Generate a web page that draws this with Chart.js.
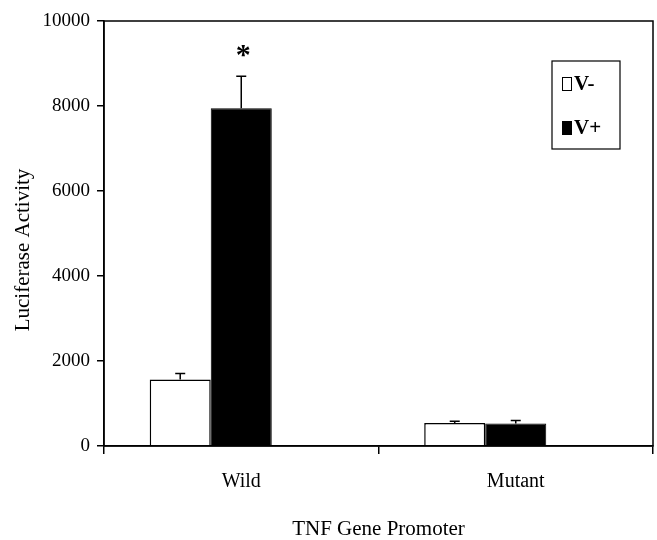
<!DOCTYPE html>
<html lang="en">
<head>
    <meta charset="UTF-8">
    <title>TNF Gene Promoter</title>
    <script src="https://cdn.jsdelivr.net/npm/chart.js"></script>
    <style>
        body { margin: 0; background: #fff; }
        canvas { display: block; }
    </style>
</head>
<body>
    <canvas id="barChart" width="657" height="540"></canvas>
    <script>
    // values
    var categories = ['Wild', 'Mutant'];
    var seriesLabels = ['V-', 'V+'];
    var vMinus = [1565, 540];
    var vPlus = [7950, 530];
    var vMinusErr = [140, 40];
    var vPlusErr = [750, 70];
    var vPlusMarks = ['*', ''];
    var yTicks = [0, 2000, 4000, 6000, 8000, 10000];
    var yTitle = 'Luciferase Activity';

    var serif = "'Liberation Serif', 'DejaVu Serif', serif";

    // error bars (upper only) + significance mark
    var errorBarPlugin = {
        id: 'errorBars',
        afterDatasetsDraw: function (chart) {
            var ctx = chart.ctx;
            var yScale = chart.scales.y;
            chart.data.datasets.forEach(function (ds, i) {
                if (!ds.errors) return;
                var meta = chart.getDatasetMeta(i);
                meta.data.forEach(function (bar, j) {
                    var topY = yScale.getPixelForValue(ds.data[j] + ds.errors[j]);
                    ctx.save();
                    ctx.strokeStyle = '#000';
                    ctx.lineWidth = 1.5;
                    ctx.beginPath();
                    ctx.moveTo(bar.x, bar.y);
                    ctx.lineTo(bar.x, topY);
                    ctx.moveTo(bar.x - 5, topY);
                    ctx.lineTo(bar.x + 5, topY);
                    ctx.stroke();
                    if (ds.marks && ds.marks[j]) {
                        ctx.fillStyle = '#000';
                        ctx.font = 'bold 30px ' + serif;
                        ctx.textAlign = 'center';
                        ctx.textBaseline = 'middle';
                        ctx.fillText(ds.marks[j], bar.x + 2, topY - 20);
                    }
                    ctx.restore();
                });
            });
        }
    };

    // frame around plot area, y title and boxed legend
    var framePlugin = {
        id: 'frame',
        afterDraw: function (chart) {
            var ctx = chart.ctx;
            var a = chart.chartArea;
            ctx.save();
            ctx.strokeStyle = '#000';
            ctx.lineWidth = 1.5;
            ctx.strokeRect(a.left, a.top, a.right - a.left, a.bottom - a.top);

            // y title, sits a bit below the axis middle in the original
            ctx.save();
            ctx.translate(23, 250);
            ctx.rotate(-Math.PI / 2);
            ctx.fillStyle = '#000';
            ctx.font = '21px ' + serif;
            ctx.textAlign = 'center';
            ctx.textBaseline = 'middle';
            ctx.fillText(yTitle, 0, 0);
            ctx.restore();

            // legend box
            var bx = 552, by = 61, bw = 68, bh = 88;
            ctx.lineWidth = 1.2;
            ctx.fillStyle = '#fff';
            ctx.fillRect(bx, by, bw, bh);
            ctx.strokeRect(bx, by, bw, bh);
            var items = chart.data.datasets.filter(function (d) { return d.label; });
            items.forEach(function (d, k) {
                var cy = by + 23 + k * 44;
                ctx.fillStyle = d.backgroundColor;
                ctx.fillRect(562, cy - 7, 10, 14);
                ctx.lineWidth = 1;
                ctx.strokeRect(562.5, cy - 6.5, 9, 13);
                ctx.fillStyle = '#000';
                ctx.font = 'bold 21px ' + serif;
                ctx.textAlign = 'left';
                ctx.textBaseline = 'middle';
                ctx.fillText(d.label, 574, cy + 1);
            });
            ctx.restore();
        }
    };

    new Chart(document.getElementById('barChart').getContext('2d'), {
        type: 'bar',
        data: {
            labels: categories,
            datasets: [
                {
                    label: seriesLabels[0],
                    data: vMinus,
                    errors: vMinusErr,
                    backgroundColor: '#ffffff',
                    borderColor: '#000000',
                    borderWidth: 1.5
                },
                {
                    label: seriesLabels[1],
                    data: vPlus,
                    errors: vPlusErr,
                    marks: vPlusMarks,
                    backgroundColor: '#000000',
                    borderColor: '#000000',
                    borderWidth: 1
                },
                {
                    // empty slot, keeps the bars left of the category centre
                    label: '',
                    data: [null, null],
                    backgroundColor: 'rgba(0,0,0,0)'
                }
            ]
        },
        options: {
            responsive: false,
            animation: false,
            devicePixelRatio: 1,
            barPercentage: 1.0,
            categoryPercentage: 0.667,
            layout: { padding: { top: 21, right: 4, left: 0, bottom: 0 } },
            plugins: {
                legend: { display: false },
                tooltip: { enabled: false }
            },
            scales: {
                x: {
                    afterFit: function (scale) { scale.height = 94; },
                    grid: { drawOnChartArea: false, tickLength: 8, color: '#000', lineWidth: 1.5 },
                    border: { color: '#000', width: 1.5 },
                    ticks: { color: '#000', padding: 16, font: { family: serif, size: 20 } },
                    title: {
                        display: true,
                        text: 'TNF Gene Promoter',
                        color: '#000',
                        padding: { top: 0, bottom: -2 },
                        font: { family: serif, size: 21 }
                    }
                },
                y: {
                    min: 0,
                    max: 10000,
                    afterFit: function (scale) { scale.width = 104; },
                    afterBuildTicks: function (scale) {
                        scale.ticks = yTicks.map(function (v) { return { value: v }; });
                    },
                    grid: { drawOnChartArea: false, tickLength: 7, color: '#000', lineWidth: 1.5 },
                    border: { color: '#000', width: 1.5 },
                    ticks: {
                        color: '#000',
                        padding: 7,
                        font: { family: serif, size: 19 },
                        callback: function (v) { return String(v); }
                    },
                    title: { display: false }
                }
            }
        },
        plugins: [errorBarPlugin, framePlugin]
    });
    </script>
</body>
</html>
